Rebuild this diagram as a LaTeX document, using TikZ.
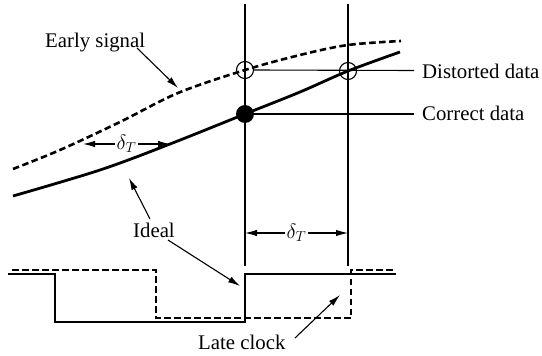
\documentclass[tikz,border=0pt]{standalone}
\usepackage{fontspec}
\setmainfont{Liberation Serif}
\usetikzlibrary{arrows.meta}
\tikzset{
  thin line/.style={line width=1.1pt},
  heavy/.style={line width=2.8pt},
  heavydash/.style={line width=2.6pt, dash pattern=on 6.5pt off 3.5pt},
  tip/.tip={Latex[length=12pt,width=6.5pt]},
  pointer/.style={line width=1.1pt, -tip},
  dim/.style={line width=1.1pt, tip-tip},
  lbl/.style={inner sep=0pt, anchor=base west, font=\fontsize{20.8}{25}\selectfont},
  dlbl/.style={fill=white, inner sep=1.5pt, font=\fontsize{20.8}{25}\selectfont},
  ring/.style={line width=1.1pt, draw, circle, minimum size=17pt, inner sep=0pt},
  dot/.style={fill, circle, minimum size=18pt, inner sep=0pt}
}
\begin{document}
\begin{tikzpicture}[x=1pt,y=-1pt]
\useasboundingbox (0,0) rectangle (542,356);
% vertical sampling lines
\coordinate (v1t) at (245,4);
\coordinate (v1b) at (245,266);
\coordinate (v2t) at (348,4);
\coordinate (v2b) at (348,266);
\draw[thin line] (v1t) -- (v1b);
\draw[thin line] (v2t) -- (v2b);
% curves
\draw[heavydash] plot[smooth, tension=0.55] coordinates {(13,169) (60,150) (120,122) (178,93) (245,70) (300,55) (348,45) (401,41)};
\draw[heavy] plot[smooth, tension=0.55] coordinates {(13,196) (100,170) (170,144) (245,114) (300,92) (348,71) (400,52)};
% markers
\node[ring] (c1) at (245,70) {};
\node[ring] (c2) at (348,71) {};
\node[dot] (d1) at (245,114) {};
% labels
\node[lbl] (dist) at (422,78) {Distorted data};
\node[lbl] (corr) at (422,121) {Correct data};
\node[lbl] (early) at (45,47) {Early signal};
\node[lbl] (ideal) at (133,237) {Ideal};
\node[lbl] (late) at (198,349) {Late clock};
\coordinate (dl) at (414,70.5);
\coordinate (cl) at (414,114);
\draw[thin line] (c1.east) -- (dl);
\draw[thin line] (d1.east) -- (cl);
% pointers
\coordinate (es0) at (137,48);
\coordinate (es1) at (178,88);
\draw[pointer] (es0) -- (es1);
\coordinate (id0) at (150,219);
\coordinate (id1) at (129,178);
\draw[pointer] (id0) -- (id1);
\coordinate (id2) at (168,240);
\coordinate (id3) at (240,286);
\draw[pointer] (id2) -- (id3);
\coordinate (lc0) at (295,338);
\coordinate (lc1) at (340,295);
\draw[pointer] (lc0) -- (lc1);
% delta_T dimensions
\coordinate (da) at (83,144);
\coordinate (db) at (170,144);
\draw[dim] (da) -- (db) node[dlbl, midway] (dt1) {$\delta_T$};
\coordinate (dc) at (245,233);
\coordinate (dd) at (348,233);
\draw[dim] (dc) -- (dd) node[dlbl, midway] (dt2) {$\delta_T$};
% clocks
\draw[heavy] (8,274) -- (55,274) -- (55,322) -- (245,322) -- (245,274) -- (396,274);
\draw[heavydash] (12,270) -- (156,270) -- (156,318) -- (351,318) -- (351,270) -- (396,270);
\end{tikzpicture}
\end{document}
